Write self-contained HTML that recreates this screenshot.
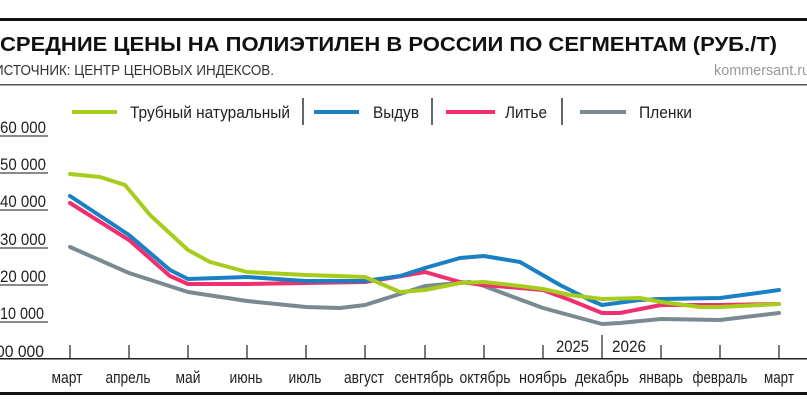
<!DOCTYPE html>
<html><head><meta charset="utf-8"><style>
html,body{margin:0;padding:0;background:#fff;}
svg{display:block;font-family:"Liberation Sans",sans-serif;}
</style></head><body>
<svg width="807" height="414" viewBox="0 0 807 414" xmlns="http://www.w3.org/2000/svg">
<rect x="0" y="18" width="807" height="3" fill="#111"/>
<text x="0" y="51" font-size="20" font-weight="bold" fill="#111" textLength="777" lengthAdjust="spacingAndGlyphs">СРЕДНИЕ ЦЕНЫ НА ПОЛИЭТИЛЕН В РОССИИ ПО СЕГМЕНТАМ (РУБ./Т)</text>
<text x="-6" y="75" font-size="15" fill="#333" textLength="280" lengthAdjust="spacingAndGlyphs">ИСТОЧНИК: ЦЕНТР ЦЕНОВЫХ ИНДЕКСОВ.</text>
<text x="714" y="75" font-size="15" fill="#999" textLength="96" lengthAdjust="spacingAndGlyphs">kommersant.ru</text>
<rect x="0" y="84" width="807" height="1.5" fill="#555"/>
<g font-size="17" fill="#222">
<line x1="72" y1="112" x2="117" y2="112" stroke="#a8cc1c" stroke-width="4"/>
<text x="130" y="118" textLength="160" lengthAdjust="spacingAndGlyphs">Трубный натуральный</text>
<line x1="303" y1="98" x2="303" y2="125" stroke="#333" stroke-width="1.5"/>
<line x1="314" y1="112" x2="359" y2="112" stroke="#1a80c4" stroke-width="4"/>
<text x="373" y="118" textLength="46" lengthAdjust="spacingAndGlyphs">Выдув</text>
<line x1="432" y1="98" x2="432" y2="125" stroke="#333" stroke-width="1.5"/>
<line x1="446" y1="112" x2="495" y2="112" stroke="#f0306e" stroke-width="4"/>
<text x="505" y="118" textLength="42" lengthAdjust="spacingAndGlyphs">Литье</text>
<line x1="562" y1="98" x2="562" y2="125" stroke="#333" stroke-width="1.5"/>
<line x1="580" y1="112" x2="626" y2="112" stroke="#7a8a90" stroke-width="4"/>
<text x="639" y="118" textLength="53" lengthAdjust="spacingAndGlyphs">Пленки</text>
</g>
<g font-size="17" fill="#222">
<text x="0" y="133" textLength="46" lengthAdjust="spacingAndGlyphs">60 000</text>
<text x="0" y="170" textLength="46" lengthAdjust="spacingAndGlyphs">50 000</text>
<text x="0" y="207" textLength="46" lengthAdjust="spacingAndGlyphs">40 000</text>
<text x="0" y="245" textLength="46" lengthAdjust="spacingAndGlyphs">30 000</text>
<text x="0" y="282" textLength="46" lengthAdjust="spacingAndGlyphs">20 000</text>
<text x="0" y="319" textLength="44" lengthAdjust="spacingAndGlyphs">10 000</text>
<text x="-4" y="357" textLength="48" lengthAdjust="spacingAndGlyphs">00 000</text>
</g>
<g stroke="#444" stroke-width="1.2">
<line x1="0" y1="136" x2="48" y2="136"/><line x1="0" y1="173" x2="48" y2="173"/>
<line x1="0" y1="210" x2="48" y2="210"/><line x1="0" y1="248" x2="48" y2="248"/>
<line x1="0" y1="285" x2="48" y2="285"/><line x1="0" y1="322" x2="48" y2="322"/>
</g>
<rect x="0" y="358" width="807" height="1.5" fill="#222"/>
<g stroke="#222" stroke-width="1.2">
<line x1="70" y1="345" x2="70" y2="359"/><line x1="129" y1="345" x2="129" y2="359"/>
<line x1="188" y1="345" x2="188" y2="359"/><line x1="247" y1="345" x2="247" y2="359"/>
<line x1="306" y1="345" x2="306" y2="359"/><line x1="365" y1="345" x2="365" y2="359"/>
<line x1="425" y1="345" x2="425" y2="359"/><line x1="484" y1="345" x2="484" y2="359"/>
<line x1="543" y1="345" x2="543" y2="359"/><line x1="602" y1="335" x2="602" y2="359"/>
<line x1="661" y1="345" x2="661" y2="359"/><line x1="720" y1="345" x2="720" y2="359"/>
<line x1="779" y1="345" x2="779" y2="359"/>
</g>
<g font-size="17" fill="#222">
<text x="556" y="352" textLength="33" lengthAdjust="spacingAndGlyphs">2025</text>
<text x="612" y="352" textLength="34" lengthAdjust="spacingAndGlyphs">2026</text>
</g>
<g font-size="17" fill="#222" text-anchor="middle">
<text x="67" y="383" textLength="31" lengthAdjust="spacingAndGlyphs">март</text>
<text x="128" y="383" textLength="45" lengthAdjust="spacingAndGlyphs">апрель</text>
<text x="188" y="383" textLength="25" lengthAdjust="spacingAndGlyphs">май</text>
<text x="246" y="383" textLength="33" lengthAdjust="spacingAndGlyphs">июнь</text>
<text x="305" y="383" textLength="33" lengthAdjust="spacingAndGlyphs">июль</text>
<text x="364" y="383" textLength="40" lengthAdjust="spacingAndGlyphs">август</text>
<text x="424" y="383" textLength="59" lengthAdjust="spacingAndGlyphs">сентябрь</text>
<text x="485" y="383" textLength="51" lengthAdjust="spacingAndGlyphs">октябрь</text>
<text x="543" y="383" textLength="48" lengthAdjust="spacingAndGlyphs">ноябрь</text>
<text x="602" y="383" textLength="54" lengthAdjust="spacingAndGlyphs">декабрь</text>
<text x="661" y="383" textLength="44" lengthAdjust="spacingAndGlyphs">январь</text>
<text x="720" y="383" textLength="55" lengthAdjust="spacingAndGlyphs">февраль</text>
<text x="779" y="383" textLength="30" lengthAdjust="spacingAndGlyphs">март</text>
</g>
<rect x="0" y="392" width="807" height="3" fill="#111"/>
<g fill="none" stroke-width="4" stroke-linejoin="round" stroke-linecap="round">
<polyline stroke="#7a8a90" points="70,247 129,273 188,292 247,301 306,307 340,308 365,305 425,286 470,282 484,286 543,308 602,324 620,323 661,319 720,320 779,313"/>
<polyline stroke="#f0306e" points="70,203 129,240 170,276 188,284 247,284 306,283 365,282 390,278 425,272 460,282 484,285 543,290 570,300 602,313 620,313 661,305 720,305 779,304"/>
<polyline stroke="#1a80c4" points="70,196 129,235 170,270 188,279 247,277 306,281 365,281 400,276 425,268 460,258 484,256 520,262 560,285 590,300 602,305 640,300 661,299 720,298 750,294 779,290"/>
<polyline stroke="#a8cc1c" points="70,174 100,177 125,185 150,215 188,250 210,262 247,272 306,275 365,277 400,292 425,290 460,283 484,282 520,286 543,289 570,295 602,299 640,298 661,302 700,307 720,307 779,304"/>
</g>
</svg>
</body></html>
